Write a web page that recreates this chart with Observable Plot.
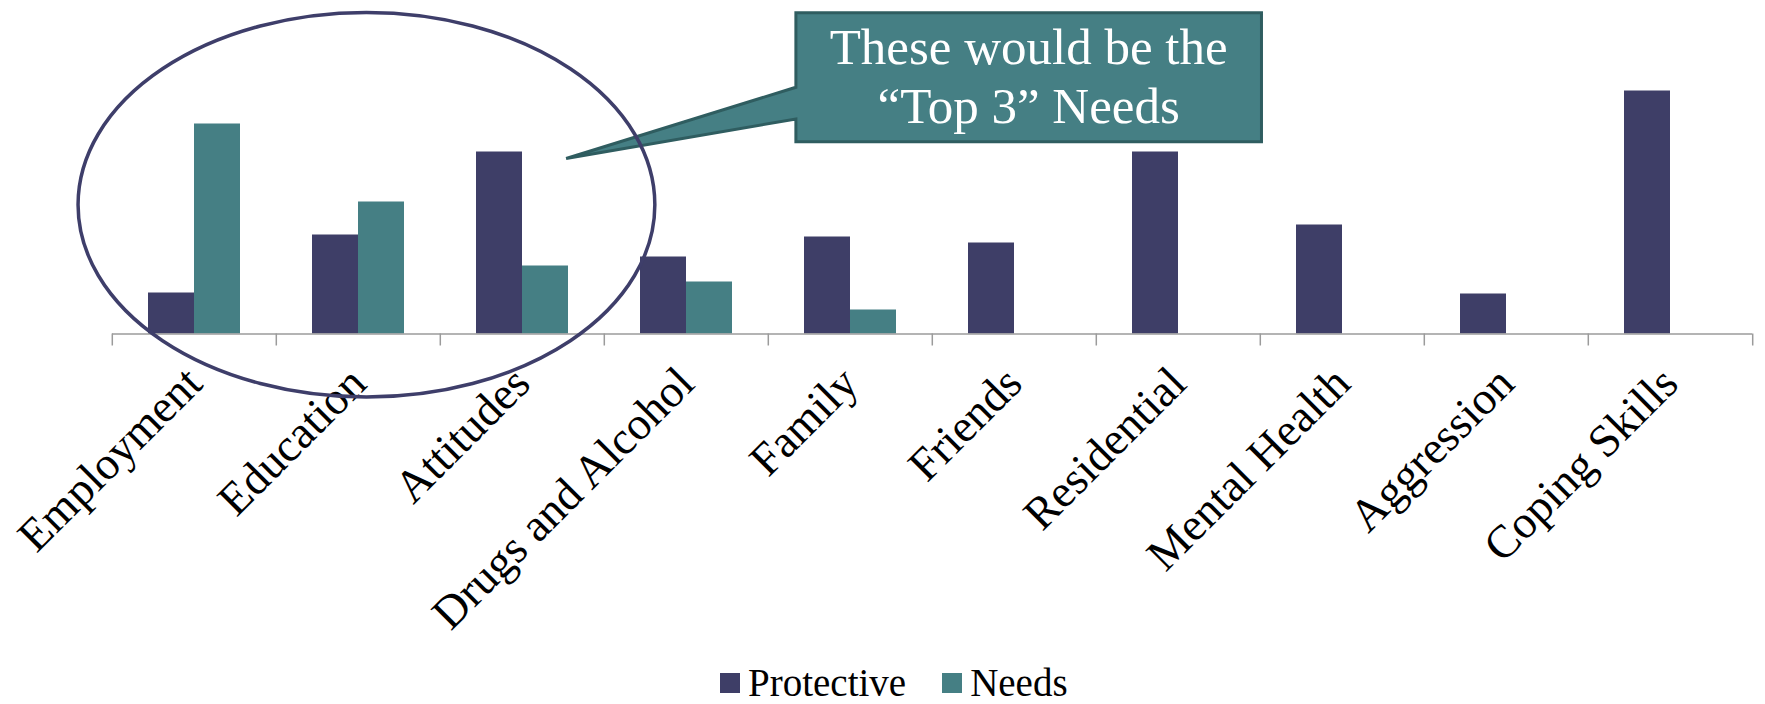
<!DOCTYPE html>
<html><head><meta charset="utf-8">
<script src="https://cdn.jsdelivr.net/npm/d3@7"></script>
<script src="https://cdn.jsdelivr.net/npm/@observablehq/plot@0.6"></script>
<style>
html,body{margin:0;padding:0;background:#fff;overflow:hidden;}
#legend{display:flex;justify-content:flex-start;padding-left:720px;height:44px;}
#legend, #legend *{font-family:'Liberation Serif','Times New Roman',serif !important;}
#legend > div{margin:0 !important;min-height:0 !important;font-size:39px !important;color:#000 !important;}
#legend span{margin-right:36px !important;}
#legend span > svg{margin-right:8px !important;}
</style></head><body>
<div id="chart"></div><div id="legend"></div>
<script>
const categories = ["Employment","Education","Attitudes","Drugs and Alcohol","Family","Friends","Residential","Mental Health","Aggression","Coping Skills"];
const series = ["Protective","Needs"];
const protective = [4.1, 9.9, 18.2, 7.7, 9.7, 9.1, 18.2, 10.9, 4.0, 24.3];
const needs = [21.0, 13.2, 6.8, 5.2, 2.4, null, null, null, null, null];
const colors = ["#3e3e67", "#457f84"];
const calloutLines = ["These would be the", "\u201CTop 3\u201D Needs"];

const data = [];
categories.forEach((c, i) => {
  if (protective[i] != null) data.push({category: c, series: "Protective", value: protective[i]});
  if (needs[i] != null) data.push({category: c, series: "Needs", value: needs[i]});
});

const W = 1765, H = 660, mL = 110, mR = 11, mT = 33.5, mB = 326.5;
const bw = (W - mL - mR) / categories.length;
const serif = "'Liberation Serif', 'Times New Roman', serif";
const axisGray = "#9b9b9b";

const plot = Plot.plot({
  width: W, height: H,
  marginLeft: mL, marginRight: mR, marginTop: mT, marginBottom: mB,
  style: {fontFamily: serif, background: "white", overflow: "visible"},
  fx: {domain: categories, padding: 0, axis: null, label: null},
  x: {domain: series, paddingInner: 0, paddingOuter: 0.75, axis: null},
  y: {domain: [0, 30], axis: null},
  color: {domain: series, range: colors},
  marks: [
    Plot.barY(data, {fx: "category", x: "series", y: "value", fill: "series"}),
    Plot.ruleY([0], {stroke: axisGray, strokeWidth: 1.5}),
    Plot.axisFx({anchor: "bottom", label: null, tickSize: 12, tickFormat: () => "", dx: -bw / 2, stroke: axisGray, strokeWidth: 1.5}),
    Plot.axisFx({anchor: "bottom", label: null, ticks: [categories[categories.length - 1]], tickSize: 12, tickFormat: () => "", dx: bw / 2, stroke: axisGray, strokeWidth: 1.5}),
    Plot.text(categories, {fx: d => d, text: d => d, frameAnchor: "bottom", rotate: -45, textAnchor: "end", lineAnchor: "bottom", dx: 10, dy: 52, fontSize: 46, fill: "black"})
  ]
});
document.getElementById("chart").append(plot);

// Annotations positioned through the plot's scales
const sfx = plot.scale("fx"), sy = plot.scale("y");
const band = sfx.bandwidth;
const fxPos = (c, f) => sfx.apply(c) + f * band;
const yPos = v => sy.apply(v);
const svg = d3.select(plot);

// callout box with pointer
const L = fxPos("Family", 0.17), R = fxPos("Mental Health", 0.009);
const T = yPos(32.08), B = yPos(19.18);
const w1 = yPos(24.62), w2 = yPos(21.45);
const tipX = fxPos("Attitudes", 0.769), tipY = yPos(17.5);
svg.append("path")
  .attr("d", `M${L},${T}H${R}V${B}H${L}V${w2}L${tipX},${tipY}L${L},${w1}Z`)
  .attr("fill", "#457f84").attr("stroke", "#2f5d60").attr("stroke-width", 3).attr("stroke-linejoin", "miter");
const cx = (L + R) / 2, cy = (T + B) / 2;
svg.append("text").attr("x", cx).attr("y", cy - 13).attr("text-anchor", "middle")
  .attr("fill", "white").attr("font-size", 51).attr("font-family", serif).text(calloutLines[0]);
svg.append("text").attr("x", cx).attr("y", cy + 46).attr("text-anchor", "middle")
  .attr("fill", "white").attr("font-size", 51).attr("font-family", serif).text(calloutLines[1]);

// ellipse around the first three categories
const eL = fxPos("Employment", -0.207), eR = fxPos("Attitudes", 1.31);
const eT = yPos(32.1), eB = yPos(-6.35);
svg.append("ellipse")
  .attr("cx", (eL + eR) / 2).attr("cy", (eT + eB) / 2)
  .attr("rx", (eR - eL) / 2).attr("ry", (eB - eT) / 2)
  .attr("fill", "none").attr("stroke", "#3e3e6a").attr("stroke-width", 3.5);

// legend
const leg = Plot.legend({
  color: {type: "ordinal", domain: series, range: colors},
  legend: "swatches", swatchSize: 20,
  style: {fontFamily: serif, fontSize: "39px", color: "black"}
});
document.getElementById("legend").append(leg);
</script>
</body></html>
